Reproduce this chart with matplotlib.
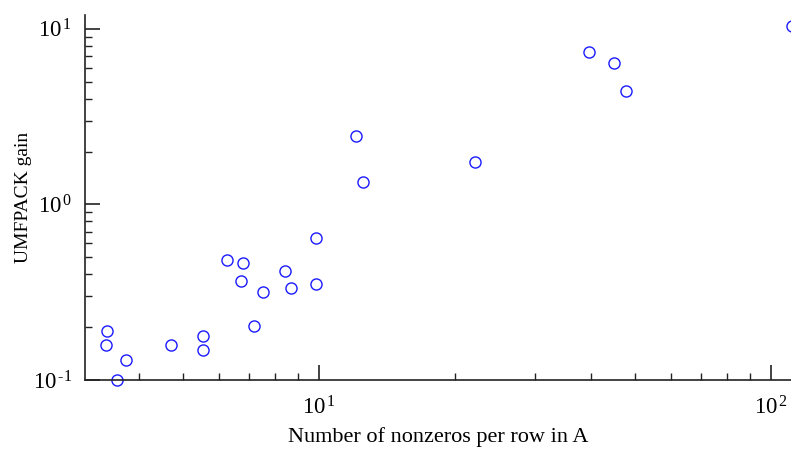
import math
import matplotlib.pyplot as plt
from matplotlib.ticker import LogLocator, FuncFormatter, NullFormatter

plt.rcParams['font.family'] = ['Liberation Serif', 'DejaVu Serif']
plt.rcParams['mathtext.fontset'] = 'custom'
plt.rcParams['mathtext.rm'] = 'Liberation Serif'
plt.rcParams['mathtext.it'] = 'Liberation Serif:italic'

# ── Data ─────────────────────────────────────────────────────────────────────
nnz_per_row = [3.40, 3.38, 3.57, 3.74, 4.71, 5.53, 5.53, 6.26, 6.79, 6.72,
               7.18, 7.52, 8.41, 8.67, 9.85, 9.85, 12.08, 12.51, 22.1,
               39.5, 45.0, 47.8, 111.0]
umfpack_gain = [0.19, 0.158, 0.100, 0.130, 0.158, 0.178, 0.148, 0.485, 0.466,
                0.368, 0.204, 0.318, 0.42, 0.336, 0.64, 0.354, 2.45, 1.35,
                1.74, 7.39, 6.39, 4.43, 10.4]

xlabel = 'Number of nonzeros per row in A'
ylabel = 'UMFPACK gain'


def pow10_label(v, pos):
    if v <= 0:
        return ''
    e = int(round(math.log10(v)))
    # plain hyphen in the exponent, like the original
    return r'$\mathregular{10}^{\,\text{%d}}$' % e


fig = plt.figure(figsize=(7.91, 4.49), dpi=100)
ax = fig.add_axes([0.1075, 0.1537, 0.8925, 0.8129])

ax.plot(nnz_per_row, umfpack_gain, linestyle='none', marker='o',
        markersize=8, markerfacecolor='none', markeredgecolor='#1a1aff',
        markeredgewidth=1.0, clip_on=False)

ax.set_xscale('log')
ax.set_yscale('log')
ax.set_xlim(3.035, 110.7)
ax.set_ylim(0.1, 12.0)

for side in ('top', 'right'):
    ax.spines[side].set_visible(False)
for side in ('left', 'bottom'):
    ax.spines[side].set_color('#222222')
    ax.spines[side].set_linewidth(1.2)

for axis in (ax.xaxis, ax.yaxis):
    axis.set_major_locator(LogLocator(base=10))
    axis.set_minor_locator(LogLocator(base=10, subs=range(2, 10)))
    axis.set_major_formatter(FuncFormatter(pow10_label))
    axis.set_minor_formatter(NullFormatter())

ax.tick_params(which='major', direction='in', length=11, width=1.2,
               color='#222222', labelsize=16.5)
ax.tick_params(which='minor', direction='in', length=5, width=1.0,
               color='#222222')
ax.tick_params(axis='x', which='major', pad=12)
ax.tick_params(axis='y', which='major', pad=9)

ax.set_xlabel(xlabel, fontsize=16, labelpad=5)
ax.set_ylabel(ylabel, fontsize=14)
ax.yaxis.set_label_coords(-0.075, 0.5)

fig.savefig('out.png', dpi=100)
